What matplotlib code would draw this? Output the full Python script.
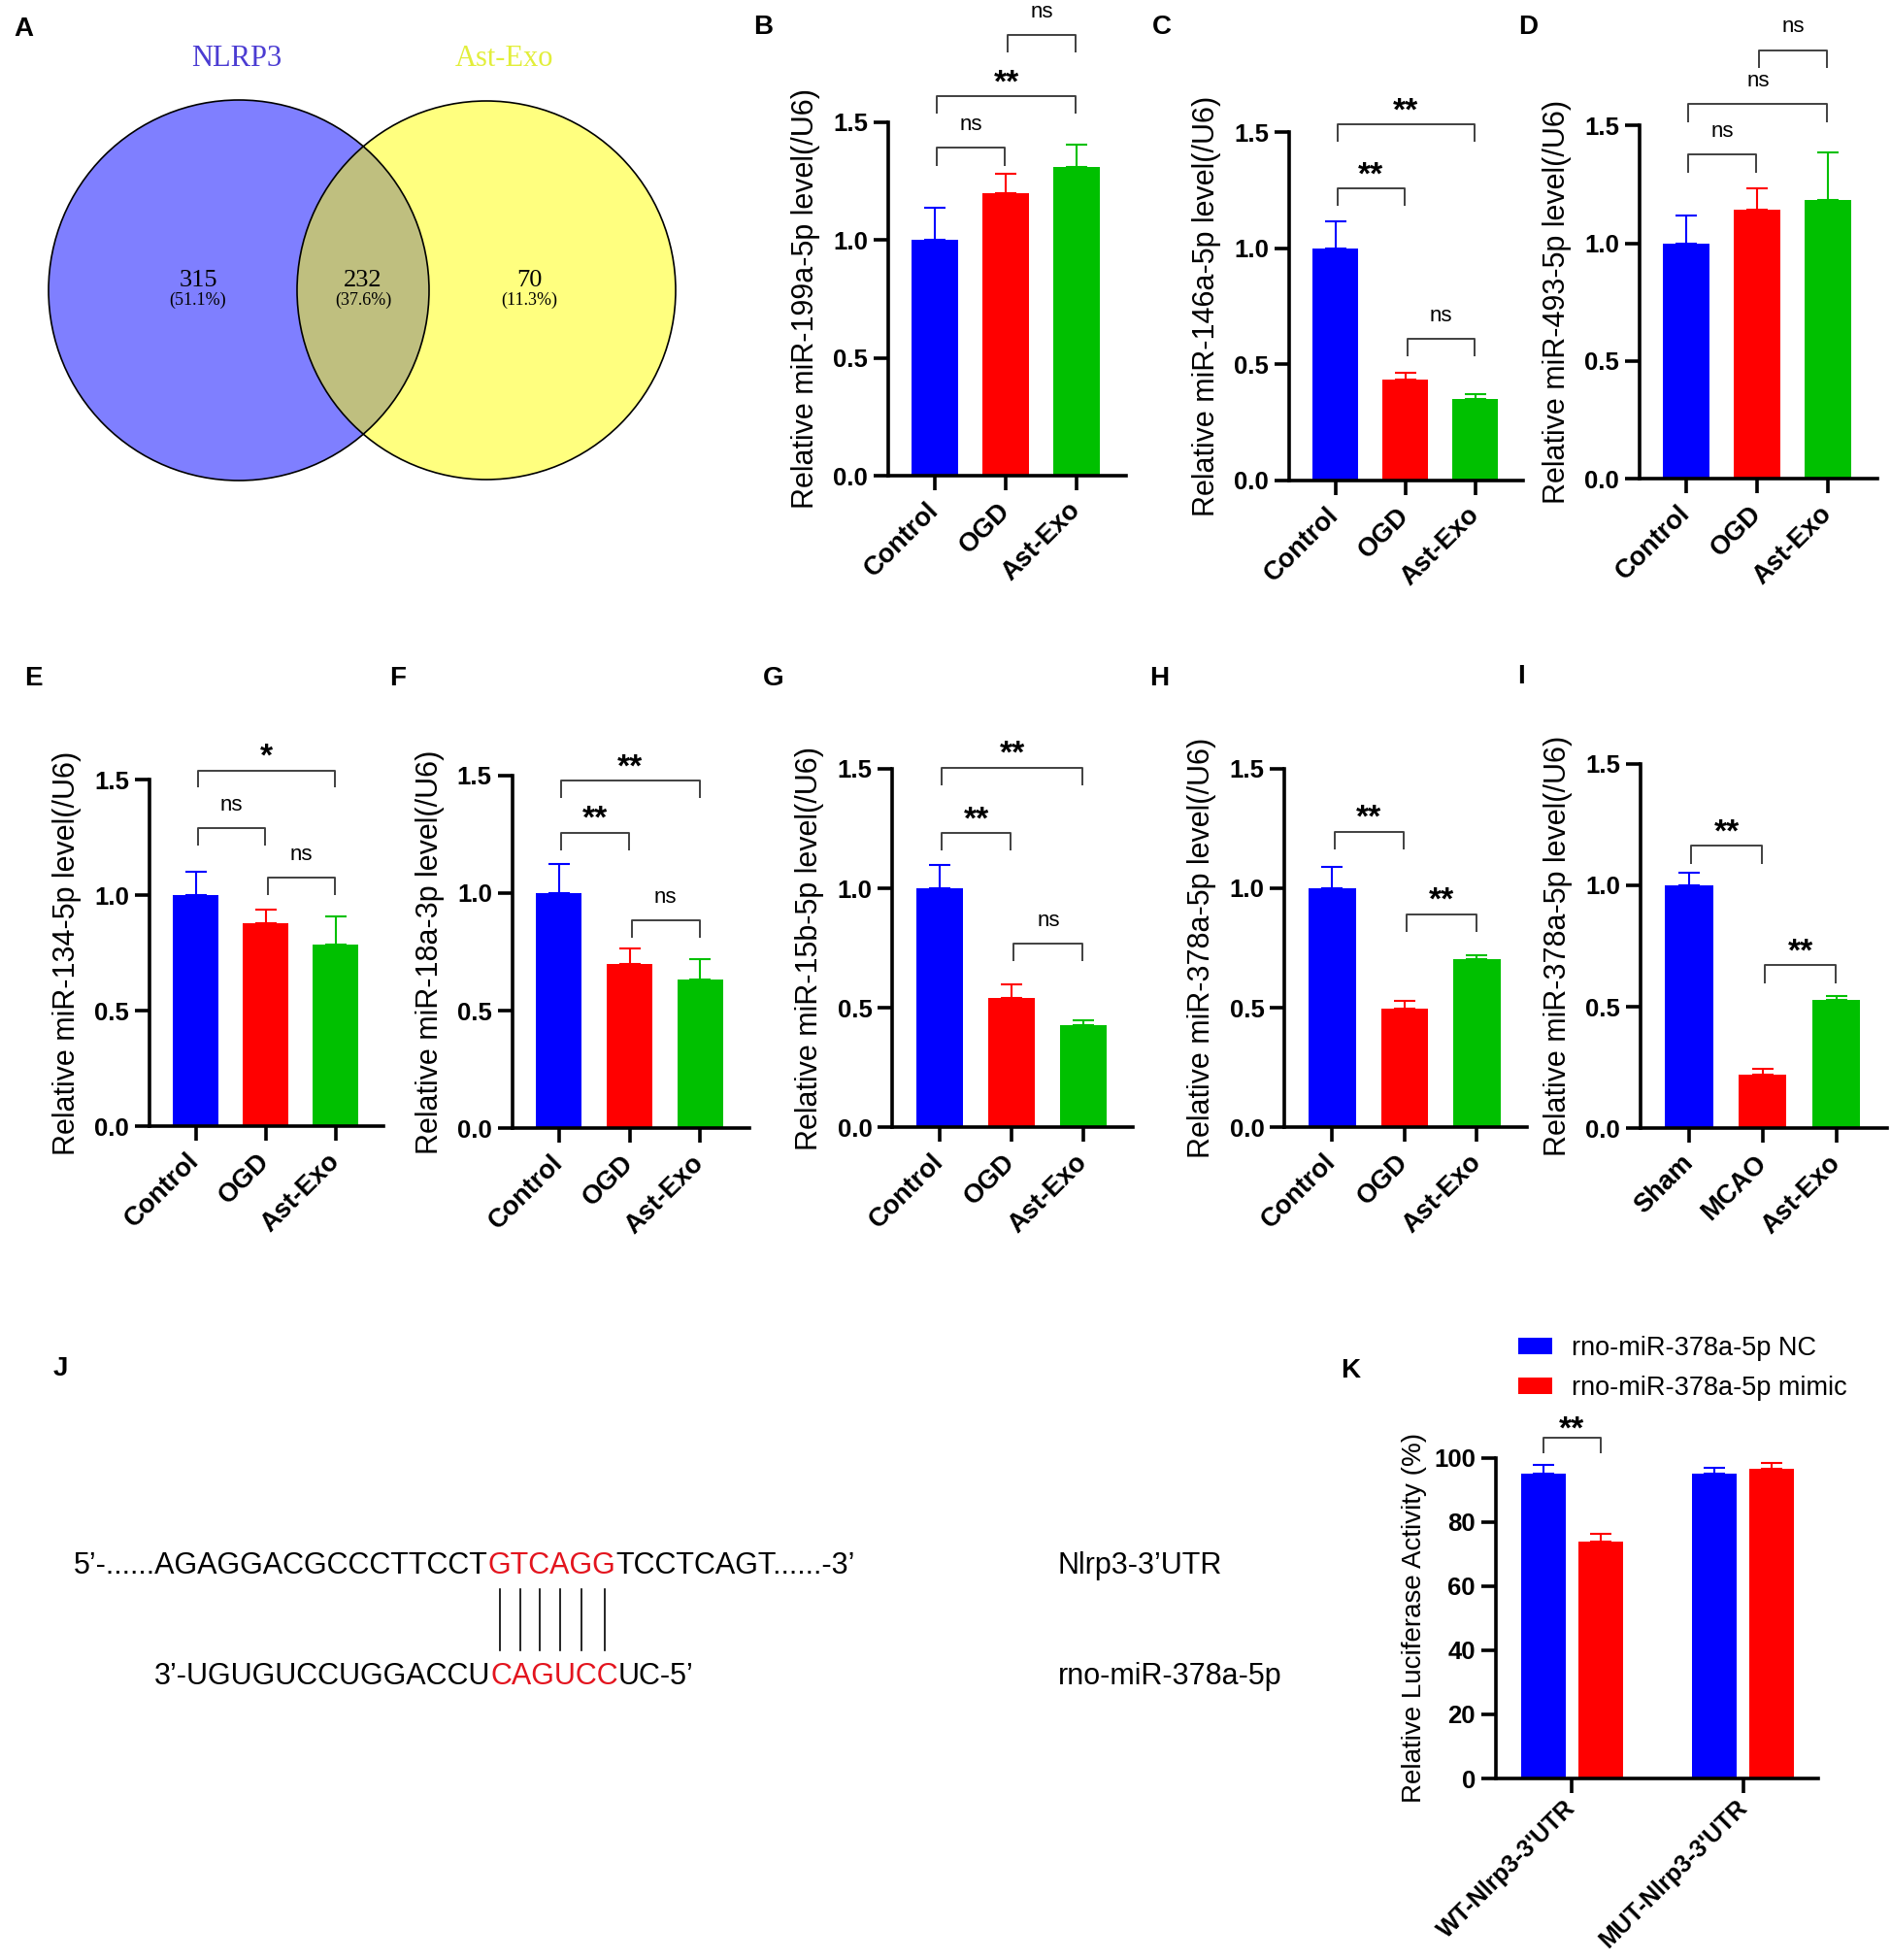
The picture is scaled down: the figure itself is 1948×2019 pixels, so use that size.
import matplotlib
matplotlib.use("Agg")
import matplotlib.pyplot as plt
from matplotlib.patches import Circle

plt.rcParams["font.family"] = ["Liberation Sans", "DejaVu Sans"]

W, H, DPI = 1949, 2019, 100

# ---- data -----------------------------------------------------------------
GROUPS_OGD = ["Control", "OGD", "Ast-Exo"]
GROUPS_MCAO = ["Sham", "MCAO", "Ast-Exo"]
BAR_COLORS = ["#0000FF", "#FF0000", "#00C000"]

VENN_SETS = ["NLRP3", "Ast-Exo"]
VENN_COUNTS = [315, 232, 70]
VENN_PERCENTS = ["(51.1%)", "(37.6%)", "(11.3%)"]

B_YLABEL = "Relative miR-199a-5p level(/U6)"
B_MEANS = [1.00, 1.20, 1.31]
B_ERRS = [0.135, 0.08, 0.095]
B_SIG = [(0, 1, 1.39, "ns"), (0, 2, 1.61, "**"), (1, 2, 1.87, "ns")]

C_YLABEL = "Relative miR-146a-5p level(/U6)"
C_MEANS = [1.00, 0.436, 0.349]
C_ERRS = [0.116, 0.029, 0.025]
C_SIG = [(0, 1, 1.26, "**"), (0, 2, 1.536, "**"), (1, 2, 0.61, "ns")]

D_YLABEL = "Relative miR-493-5p level(/U6)"
D_MEANS = [1.00, 1.142, 1.185]
D_ERRS = [0.117, 0.093, 0.202]
D_SIG = [(0, 1, 1.376, "ns"), (0, 2, 1.59, "ns"), (1, 2, 1.82, "ns")]

E_YLABEL = "Relative miR-134-5p level(/U6)"
E_MEANS = [1.00, 0.88, 0.787]
E_ERRS = [0.10, 0.06, 0.123]
E_SIG = [(0, 1, 1.29, "ns"), (1, 2, 1.075, "ns"), (0, 2, 1.541, "*")]

F_YLABEL = "Relative miR-18a-3p level(/U6)"
F_MEANS = [1.00, 0.698, 0.63]
F_ERRS = [0.124, 0.067, 0.09]
F_SIG = [(0, 1, 1.257, "**"), (0, 2, 1.477, "**"), (1, 2, 0.883, "ns")]

G_YLABEL = "Relative miR-15b-5p level(/U6)"
G_MEANS = [1.00, 0.542, 0.427]
G_ERRS = [0.096, 0.056, 0.022]
G_SIG = [(0, 1, 1.232, "**"), (0, 2, 1.505, "**"), (1, 2, 0.77, "ns")]

H_YLABEL = "Relative miR-378a-5p level(/U6)"
H_MEANS = [1.00, 0.497, 0.705]
H_ERRS = [0.09, 0.032, 0.016]
H_SIG = [(0, 1, 1.236, "**"), (1, 2, 0.891, "**")]

I_YLABEL = "Relative miR-378a-5p level(/U6)"
I_MEANS = [1.00, 0.221, 0.53]
I_ERRS = [0.05, 0.022, 0.013]
I_SIG = [(0, 1, 1.164, "**"), (1, 2, 0.67, "**")]

K_GROUPS = ["WT-Nlrp3-3'UTR", "MUT-Nlrp3-3'UTR"]
K_SERIES = ["rno-miR-378a-5p NC", "rno-miR-378a-5p mimic"]
K_NC = [95.2, 95.2]
K_NC_ERR = [2.7, 1.7]
K_MIMIC = [74.0, 96.6]
K_MIMIC_ERR = [2.3, 1.7]
K_YLABEL = "Relative Luciferase Activity (%)"

J_TARGET = ["5’-......AGAGGACGCCCTTCCT", "GTCAGG", "TCCTCAGT......-3’"]
J_MIRNA = ["3’-UGUGUCCUGGACCU", "CAGUCC", "UC-5’"]
J_NAMES = ["Nlrp3-3’UTR", "rno-miR-378a-5p"]
SEQ_RED = "#E3141E"

fig = plt.figure(figsize=(W / DPI, H / DPI), dpi=DPI)
canvas = fig.add_axes([0, 0, 1, 1])
canvas.set_xlim(0, W)
canvas.set_ylim(H, 0)
canvas.axis("off")


def px_axes(left, top, right, bottom):
    return fig.add_axes([left / W, 1 - bottom / H, (right - left) / W, (bottom - top) / H])


def style_axes(ax, xsize=19.5, xpad=12):
    for side in ("top", "right"):
        ax.spines[side].set_visible(False)
    for side in ("left", "bottom"):
        ax.spines[side].set_linewidth(2.6)
    ax.tick_params(axis="both", length=11, width=2.6, color="black")
    ax.tick_params(axis="y", labelsize=18.5, pad=4)
    ax.tick_params(axis="x", labelsize=xsize, pad=xpad)


def add_sig(ax, x1, x2, y, leg, text, star_off=9.5, ns_off=17):
    ax.plot([x1, x1, x2, x2], [y - leg, y, y, y - leg], color="#404040", lw=1.4,
            clip_on=False, solid_capstyle="butt")
    star = text != "ns"
    ax.annotate(text, ((x1 + x2) / 2, y), xytext=(0, star_off if star else ns_off),
                textcoords="offset points", ha="center", va="center",
                fontsize=24 if star else 16, fontweight="bold" if star else "normal",
                annotation_clip=False)


def bar_panel(geom, groups, means, errs, ylabel, sigs):
    x0, step, y_zero, y_top = geom
    ax = px_axes(x0, y_top, x0 + 3.35 * step, y_zero)
    xs = list(range(len(groups)))
    ax.bar(xs, means, width=0.65, color=BAR_COLORS, linewidth=0)
    for x, m, e, c in zip(xs, means, errs, BAR_COLORS):
        ax.errorbar(x, m, yerr=[[0], [e]], color=c, lw=1.5, capsize=8, capthick=1.5)
    ax.set_xlim(-0.66, 2.69)
    ax.set_ylim(0, 1.5)
    ax.set_yticks([0, 0.5, 1.0, 1.5], labels=["0.0", "0.5", "1.0", "1.5"], fontweight="bold")
    ax.set_xticks(xs, labels=groups, fontweight="bold", rotation=45, ha="right",
                  va="center", rotation_mode="anchor")
    style_axes(ax)
    ax.set_ylabel(ylabel, fontsize=22, va="center")
    ax.yaxis.set_label_coords(-85 / (3.35 * step), 0.5)
    for i, j, y, text in sigs:
        add_sig(ax, i + 0.03, j - 0.01, y, 0.075, text)
    return ax


# ---- A: Venn ---------------------------------------------------------------
left_c = (246, 299, 196)
right_c = (501, 299, 195)
canvas.add_patch(Circle(left_c[:2], left_c[2], fc=(0, 0, 1, 0.5), ec="none"))
canvas.add_patch(Circle(right_c[:2], right_c[2], fc=(1, 1, 0, 0.5), ec="none"))
for cx, cy, r in (left_c, right_c):
    canvas.add_patch(Circle((cx, cy), r, fill=False, ec="black", lw=1.2))
serif = ["Liberation Serif", "DejaVu Serif"]
canvas.text(244, 60, VENN_SETS[0], color="#4B3CD2", fontsize=22, family=serif, ha="center", va="center")
canvas.text(520, 60, VENN_SETS[1], color="#E2EE3A", fontsize=22, family=serif, ha="center", va="center")
for x, n, p in zip([204, 374, 545], VENN_COUNTS, VENN_PERCENTS):
    canvas.text(x, 289, str(n), fontsize=19, family=serif, ha="center", va="center")
    canvas.text(x, 309, p, fontsize=13, family=serif, ha="center", va="center")

# ---- B-I: bar charts -------------------------------------------------------
bar_panel((915, 73, 490, 125.7), GROUPS_OGD, B_MEANS, B_ERRS, B_YLABEL, B_SIG)
bar_panel((1328, 72, 494.9, 136.4), GROUPS_OGD, C_MEANS, C_ERRS, C_YLABEL, C_SIG)
bar_panel((1689, 73, 493.3, 129.2), GROUPS_OGD, D_MEANS, D_ERRS, D_YLABEL, D_SIG)
bar_panel((154, 72, 1160.2, 803.3), GROUPS_OGD, E_MEANS, E_ERRS, E_YLABEL, E_SIG)
bar_panel((527.7, 72.8, 1162.2, 798.6), GROUPS_OGD, F_MEANS, F_ERRS, F_YLABEL, F_SIG)
bar_panel((919.3, 74, 1161.4, 791.9), GROUPS_OGD, G_MEANS, G_ERRS, G_YLABEL, G_SIG)
bar_panel((1323.3, 74.5, 1161.4, 791.5), GROUPS_OGD, H_MEANS, H_ERRS, H_YLABEL, H_SIG)
bar_panel((1690, 75.8, 1162.2, 786.7), GROUPS_MCAO, I_MEANS, I_ERRS, I_YLABEL, I_SIG)

# ---- K: luciferase ---------------------------------------------------------
axk = px_axes(1540.8, 1501.7, 1872.9, 1832)
xk = list(range(len(K_GROUPS)))
off, bw = 0.167, 0.26
nc_bars = axk.bar([x - off for x in xk], K_NC, bw, color="#0000FF", linewidth=0, label=K_SERIES[0])
mm_bars = axk.bar([x + off for x in xk], K_MIMIC, bw, color="#FF0000", linewidth=0, label=K_SERIES[1])
axk.errorbar([x - off for x in xk], K_NC, yerr=[[0] * 2, K_NC_ERR], fmt="none",
             ecolor="#0000FF", lw=1.5, capsize=8, capthick=1.5)
axk.errorbar([x + off for x in xk], K_MIMIC, yerr=[[0] * 2, K_MIMIC_ERR], fmt="none",
             ecolor="#FF0000", lw=1.5, capsize=8, capthick=1.5)
axk.set_xlim(-0.446, 1.437)
axk.set_ylim(0, 100)
axk.set_yticks(range(0, 101, 20), labels=[str(v) for v in range(0, 101, 20)], fontweight="bold")
axk.set_xticks(xk, labels=K_GROUPS, fontweight="bold", rotation=45, ha="right",
               va="center", rotation_mode="anchor")
style_axes(axk, xsize=18, xpad=8)
axk.set_ylabel(K_YLABEL, fontsize=20, va="center")
axk.yaxis.set_label_coords(-84 / 332.1, 0.5)
add_sig(axk, -off, off, 106.2, 4.9, "**", star_off=6)
axk.legend(handles=[nc_bars, mm_bars], labels=K_SERIES, loc="upper left",
           bbox_to_anchor=(1563.7 / W, 1 - 1376 / H), bbox_transform=fig.transFigure,
           frameon=False, fontsize=19.5, handlelength=1.3, handleheight=0.6,
           handletextpad=0.75, labelspacing=0.55, borderpad=0, borderaxespad=0)

# ---- J: sequence alignment -------------------------------------------------
renderer = fig.canvas.get_renderer()
SEQ_SIZE = 22


def text_width(s):
    t = canvas.text(0, 0, s, fontsize=SEQ_SIZE)
    w = t.get_window_extent(renderer).width
    t.remove()
    return w


def draw_seq(x, y, parts):
    pre, red, post = parts
    full = pre + red + post
    red_x = x + text_width(pre + red) - text_width(red)
    post_x = x + text_width(full) - text_width(post)
    canvas.text(x, y, pre, fontsize=SEQ_SIZE, ha="left", va="center")
    canvas.text(red_x, y, red, fontsize=SEQ_SIZE, ha="left", va="center", color=SEQ_RED)
    canvas.text(post_x, y, post, fontsize=SEQ_SIZE, ha="left", va="center")
    centers = []
    for k in range(len(red)):
        right = red_x + text_width(red[:k + 1])
        centers.append(right - text_width(red[k]) / 2)
    return centers


pair_x = draw_seq(76, 1613, J_TARGET)
draw_seq(159, 1727, J_MIRNA)
for px in pair_x:
    canvas.plot([px, px], [1637, 1700], color="black", lw=1.2)
canvas.text(1090, 1613, J_NAMES[0], fontsize=SEQ_SIZE, ha="left", va="center")
canvas.text(1090, 1727, J_NAMES[1], fontsize=SEQ_SIZE, ha="left", va="center")

# ---- panel letters ---------------------------------------------------------
PANEL_LETTERS = ["A", "B", "C", "D", "E", "F", "G", "H", "I", "J", "K"]
letter_pos = [(24, 30), (786, 28), (1197, 28), (1574, 28), (34, 699), (410, 699),
              (797, 699), (1194, 699), (1567, 697), (62, 1410), (1391, 1412)]
for letter, (lx, ly) in zip(PANEL_LETTERS, letter_pos):
    canvas.text(lx, ly, letter, fontsize=20, fontweight="bold", ha="center", va="center")

fig.savefig("out.png", dpi=DPI)
